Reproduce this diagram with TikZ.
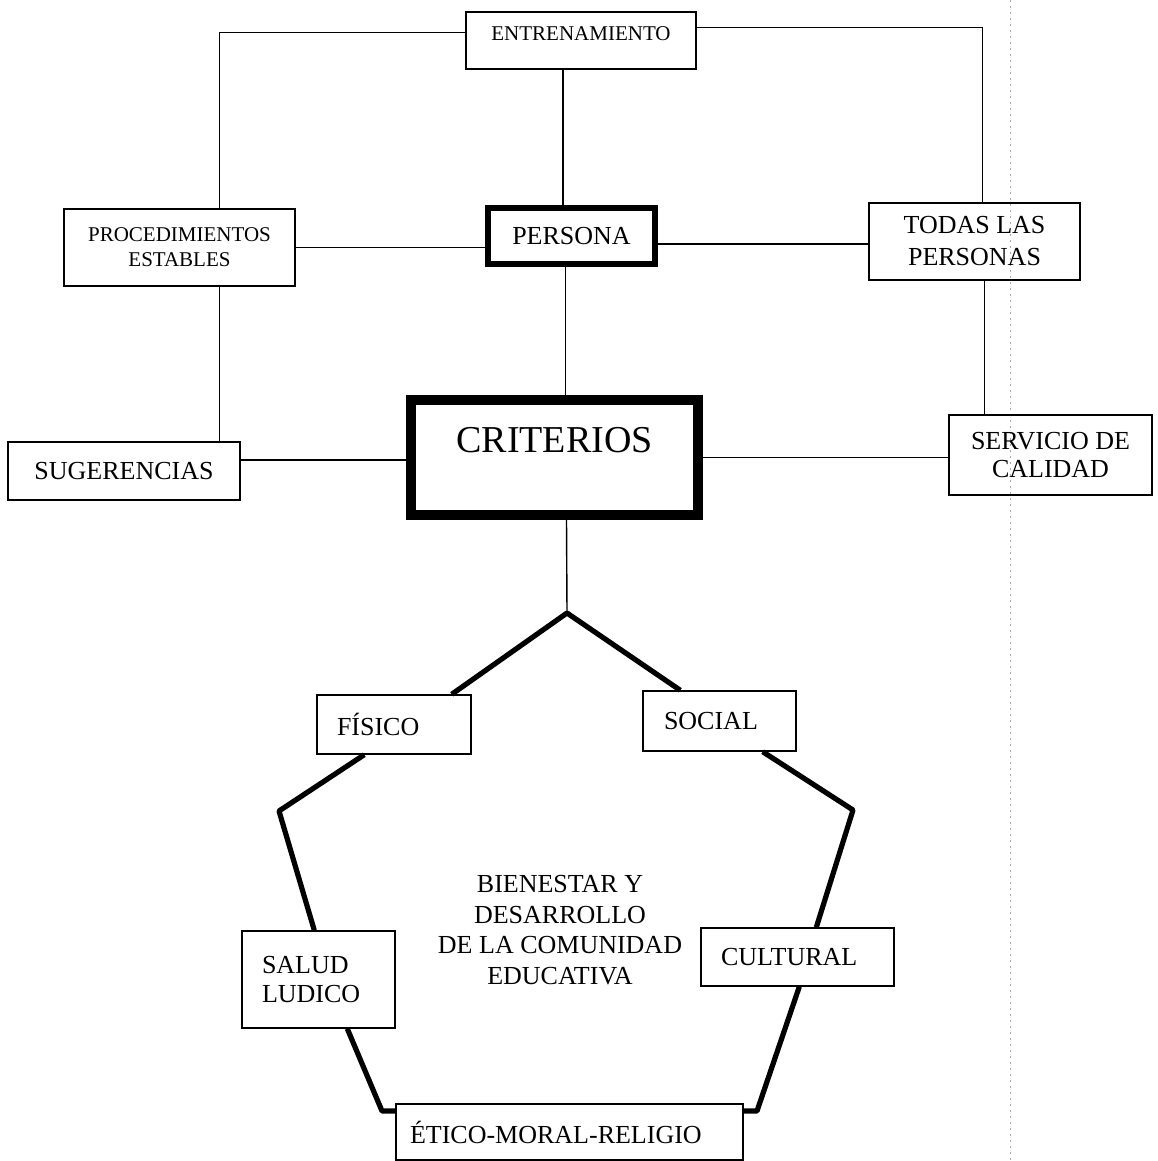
\documentclass[tikz,border=0pt]{standalone}
\usepackage{fontspec}
\setmainfont{Liberation Serif}
\tikzset{
  box/.style={draw, line width=0.7pt, inner sep=0pt, align=center,
    font=\fontsize{13}{15}\selectfont},
  smallbox/.style={box, font=\fontsize{10.5}{12.5}\selectfont},
  leftbox/.style={box, align=left},
  link/.style={line width=0.7pt},
  ring/.style={line width=2.6pt, line join=round},
}
\begin{document}
\begin{tikzpicture}[x=0.5pt, y=-0.5pt]
  \useasboundingbox (0,0) rectangle (1157,1161);

  % margin line of the page
  \draw[black!35, line width=0.4pt, dash pattern=on 1pt off 2pt] (1010,0) -- (1010,1161);

  % upper boxes
  \node[smallbox, minimum width=115pt, minimum height=28.5pt, text depth=7pt] (entr) at (581,40.5) {ENTRENAMIENTO};
  \node[smallbox, minimum width=115.5pt, minimum height=38.5pt] (proc) at (179.5,247.5) {PROCEDIMIENTOS\\ESTABLES};
  \node[box, line width=3pt, minimum width=83.5pt, minimum height=28pt] (pers) at (571.5,236) {PERSONA};
  \node[box, minimum width=105.5pt, minimum height=38.5pt, font=\fontsize{13}{16}\selectfont] (todas) at (974.5,241.5) {TODAS LAS\\PERSONAS};
  \node[box, line width=5pt, minimum width=143.5pt, minimum height=57.5pt, text depth=17.5pt, font=\fontsize{19}{22}\selectfont] (crit) at (554.5,457.5) {CRITERIOS};
  \node[box, minimum width=116pt, minimum height=29pt] (sug) at (124,471) {SUGERENCIAS};
  \node[box, minimum width=101.5pt, minimum height=40pt, font=\fontsize{13}{14}\selectfont] (serv) at (1050.5,455) {SERVICIO DE\\CALIDAD};

  % pentagon boxes
  \node[leftbox, text width=57pt, minimum width=77pt, minimum height=29.5pt] (fis) at (394,724.5) {FÍSICO};
  \node[leftbox, text width=55.5pt, minimum width=76.5pt, minimum height=30pt] (soc) at (719.5,721) {SOCIAL};
  \node[leftbox, text width=56.5pt, minimum width=76.5pt, minimum height=48.5pt, font=\fontsize{13}{14.5}\selectfont] (salud) at (318.5,979.5) {SALUD\\LUDICO};
  \node[leftbox, text width=76.5pt, minimum width=96.5pt, minimum height=29pt] (cult) at (797.5,957) {CULTURAL};
  \node[leftbox, text width=159.5pt, minimum width=173.5pt, minimum height=28pt] (etico) at (569.5,1132) {ÉTICO-MORAL-RELIGIO};
  \node[font=\fontsize{13}{15.4}\selectfont, align=center] (bien) at (560,930) {BIENESTAR Y\\DESARROLLO\\DE LA COMUNIDAD\\EDUCATIVA};

  \coordinate (apex) at (567,613);
  \coordinate (vl) at (279,811);
  \coordinate (vbl) at (382,1111);
  \coordinate (vbr) at (757,1111);
  \coordinate (vr) at (853,810);

  % links
  \draw[link] ([yshift=4pt]entr.west) -| ([xshift=20pt]proc.north);
  \draw[link] ([yshift=6.5pt]entr.east) -| ([xshift=4pt]todas.north);
  \draw[link] ([xshift=-9pt]entr.south) -- ([xshift=-9pt]entr.south |- pers.north);
  \draw[link] ([xshift=-3pt]pers.south) -- ([xshift=-3pt]pers.south |- crit.north);
  \draw[link] (proc.east) -- (proc.east -| pers.west);
  \draw[link] ([yshift=-4pt]pers.east) -- ([yshift=-4pt]pers.east -| todas.west);
  \draw[link] ([xshift=20pt]proc.south) -- ([xshift=20pt]proc.south |- sug.north);
  \draw[link] ([xshift=5pt]todas.south) -- ([xshift=5pt]todas.south |- serv.north);
  \draw[link] ([yshift=5.5pt]sug.east) -- ([yshift=5.5pt]sug.east -| crit.west);
  \draw[link] (crit.east) -- (crit.east -| serv.west);
  \draw[link] ([xshift=6pt]crit.south) -- (apex);

  % pentagon
  \draw[ring] ([xshift=-10pt]fis.north east) -- (apex) -- ([xshift=19pt]soc.north west);
  \draw[ring] ([xshift=24pt]fis.south west) -- (vl) -- ([xshift=36.5pt]salud.north west);
  \draw[ring] ([xshift=53pt]salud.south west) -- (vbl) -- ([yshift=10.5pt]etico.west);
  \draw[ring] ([yshift=10.5pt]etico.east) -- (vbr) -- ([xshift=49.5pt]cult.south west);
  \draw[ring] ([xshift=58pt]cult.north west) -- (vr) -- ([xshift=-17pt]soc.south east);
\end{tikzpicture}
\end{document}
